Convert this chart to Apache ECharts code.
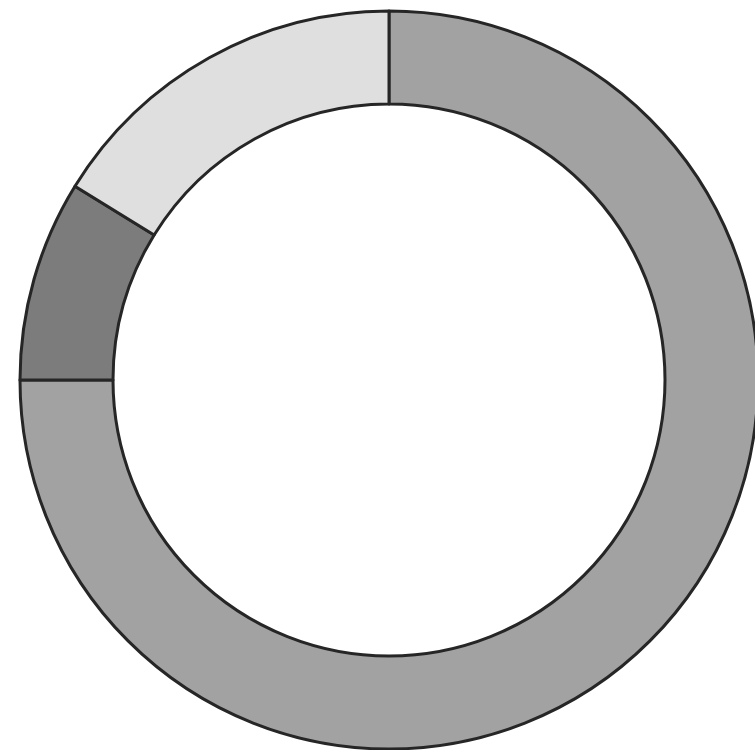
<!DOCTYPE html>
<html>
<head>
<meta charset="utf-8">
<script src="https://cdn.jsdelivr.net/npm/echarts@6/dist/echarts.min.js"></script>
<style>
html,body{margin:0;padding:0;background:#fff;}
#chart{width:755px;height:750px;}
</style>
</head>
<body>
<div id="chart"></div>
<script>
const categories = ['A', 'B', 'C'];
const values = [75, 8.8, 16.2];
const colors = ['#a2a2a2', '#7c7c7c', '#dfdfdf'];

const chart = echarts.init(document.getElementById('chart'), null, {renderer: 'canvas'});
chart.setOption({
  backgroundColor: '#ffffff',
  animation: false,
  series: [{
    type: 'pie',
    center: [389, 380],
    radius: [276, 369],
    startAngle: 90,
    clockwise: true,
    label: {show: false},
    labelLine: {show: false},
    emphasis: {disabled: true},
    itemStyle: {borderColor: '#262626', borderWidth: 3},
    data: categories.map((c, i) => ({name: c, value: values[i], itemStyle: {color: colors[i]}}))
  }]
});
</script>
</body>
</html>
